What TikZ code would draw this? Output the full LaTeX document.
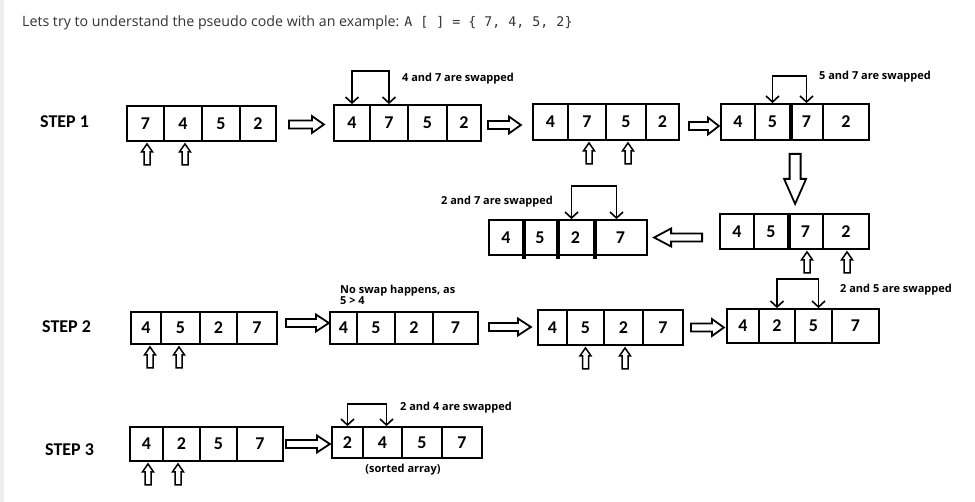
\documentclass[tikz,border=0pt]{standalone}
\usepackage{fontspec}
\setmainfont{Open Sans}
\newfontfamily\digitfont{Carlito}
\newfontfamily\codefont{DejaVu Sans Mono}
\usetikzlibrary{arrows.meta,calc}

\tikzset{
  cellbox/.style={draw, line width=1.8pt, inner sep=0pt,
    font=\digitfont\bfseries\fontsize{18}{18}\selectfont},
  steplabel/.style={anchor=west, inner sep=0pt,
    font=\digitfont\bfseries\fontsize{18}{18}\selectfont},
  note/.style={anchor=west, inner sep=0pt, font=\bfseries\fontsize{11}{10.5}\selectfont},
  swaplink/.style={line width=1.6pt,
    {Straight Barb[length=6pt,width=13pt]}-{Straight Barb[length=6pt,width=13pt]}},
  hollowarr/.style={draw, line width=1.8pt, fill=white, line join=miter},
  thickdiv/.style={line width=3.6pt},
}

% one cell of an array: name, x-left, x-right, y-top, y-bottom, value
\newcommand\cell[6]{%
  \node[cellbox, minimum width={(#3)-(#2)}, minimum height={(#5)-(#4)}]
    (#1) at ({((#2)+(#3))/2},{((#4)+(#5))/2}) {#6};}
% a whole array: name, y-top, y-bottom, list of x-left/x-right/value
\newcommand\arr[4]{%
  \foreach \xa/\xb/\v [count=\i] in {#4} {\cell{#1c\i}{\xa}{\xb}{#2}{#3}{\v}}}
% hollow block arrow: start, angle, length, shaft half width, head half width, head length
\newcommand\harrow[6]{%
  \draw[hollowarr, shift={#1}, rotate=#2]
    (0,-#4) -- ({#3-#6},-#4) -- ({#3-#6},-#5) -- (#3,0) -- ({#3-#6},#5)
    -- ({#3-#6},#4) -- (0,#4) -- cycle;}
% small hollow pointer below a cell, tip at the given point
\newcommand\pointer[1]{%
  \draw[hollowarr, line width=1.5pt, shift={#1}]
    (0,0) -- (5.5,8) -- (3,8) -- (3,21) -- (-3,21) -- (-3,8) -- (-5.5,8) -- cycle;}

\begin{document}
\begin{tikzpicture}[x=1pt, y=-1pt]
\useasboundingbox (0,0) rectangle (975,502);
\fill[black!7] (0,0) rectangle (4,502);

% heading line
\node[anchor=base west, inner sep=0pt, text=black!80] (title) at (22,27)
  {\fontsize{14.2}{16}\selectfont Lets try to understand the pseudo code with an example:
   {\codefont\fontsize{13.3}{16}\selectfont A [ ] = \{ 7, 4, 5, 2\}}};

% step labels
\node[steplabel] (step1) at (40,122) {STEP 1};
\node[steplabel] (step2) at (42,327) {STEP 2};
\node[steplabel] (step3) at (45,450) {STEP 3};

% ---- pass 1 ----
\arr{a1}{106}{141}{127/164/7, 164/202/4, 202/240/5, 240/276/2}
\arr{a2}{105}{141}{334/370/4, 370/408/7, 408/447/5, 447/481/2}
\arr{a3}{104}{140}{533/568/4, 568/606/7, 606/646/5, 646/679/2}
\arr{a4}{104}{140}{721/755/4, 755/790/5, 790/823/7, 823/869/2}
\arr{a5}{214}{249}{720/754/4, 754/788/5, 788/823/7, 823/869/2}
\arr{a6}{220}{255}{489/523/4, 523/557/5, 557/594/2, 594/647/7}

\draw[thickdiv] (a4c2.north east) -- (a4c2.south east);
\draw[thickdiv] (a5c2.north east) -- (a5c2.south east);
\draw[thickdiv] (a6c1.north east) -- ($(a6c1.south east)+(0,3)$);
\draw[thickdiv] (a6c2.north east) -- ($(a6c2.south east)+(0,3)$);
\draw[thickdiv] (a6c3.north east) -- ($(a6c3.south east)+(0,3)$);

\harrow{($(a1c4.east)+(12,1)$)}{0}{35}{4}{8.5}{12}
\harrow{($(a2c4.east)+(6,2)$)}{0}{33}{4}{8.5}{12}
\harrow{($(a3c4.east)+(9,4)$)}{0}{30}{4}{8.5}{11}
\harrow{($(a4c3.south west)+(6,13)$)}{-90}{50}{5.5}{11}{25}
\harrow{($(a5c1.west)+(-17,6)$)}{180}{48}{4}{9}{17}

\pointer{($(a1c1.south)+(1.5,2)$)}
\pointer{($(a1c2.south)+(2,2)$)}
\pointer{($(a3c2.south)+(2,2)$)}
\pointer{($(a3c3.south)+(2,2)$)}
\pointer{($(a5c3.south)+(1.5,2)$)}
\pointer{($(a5c4.south)+(1,2)$)}

\draw[swaplink] (a2c1.north) -- ++(0,-33) -| (a2c2.north);
\draw[swaplink] (a4c2.north) -- ++(0,-27) -| (a4c3.north);
\draw[swaplink] ($(a6c3.north)+(-4,0)$) -- ++(0,-33) -| ($(a6c4.north)+(-4,0)$);

\node[note] (n1) at (402,79) {4 and 7 are swapped};
\node[note] (n2) at (819,77) {5 and 7 are swapped};
\node[note] (n3) at (441,202) {2 and 7 are swapped};

% ---- pass 2 ----
\arr{b1}{312}{344}{131/161/4, 161/200/5, 200/237/2, 237/277/7}
\arr{b2}{312}{344}{330/357/4, 357/395/5, 395/433/2, 433/478/7}
\arr{b3}{310}{345}{538/567/4, 567/604/5, 604/643/2, 643/683/7}
\arr{b4}{309}{343}{727/759/4, 759/795/2, 795/832/5, 832/879/7}

\harrow{($(b1c4.east)+(8,-5)$)}{0}{43}{4}{8.5}{13}
\harrow{($(b2c4.east)+(10,-1)$)}{0}{42}{4}{8.5}{13}
\harrow{($(b3c4.east)+(7,0)$)}{0}{33}{4}{8.5}{12}

\pointer{($(b1c1.south)+(4,2)$)}
\pointer{($(b1c2.south)+(-1.5,2)$)}
\pointer{($(b3c2.south)+(0,2)$)}
\pointer{($(b3c3.south)+(1.5,2)$)}

\draw[swaplink] (b4c2.north) -- ++(0,-29) -| ($(b4c3.north)+(5,0)$);

\node[note, anchor=north west, align=left] (n4) at (340,285)
  {No swap happens, as\\5 > 4};
\node[note] (n5) at (840,290) {2 and 5 are swapped};

% ---- pass 3 ----
\arr{c1}{427}{461}{130/163/4, 163/200/2, 200/237/5, 237/283/7}
\arr{c2}{427}{458}{332/363/2, 363/402/4, 402/442/5, 442/482/7}

\harrow{($(c1c4.east)+(2,0)$)}{0}{44}{4}{8.5}{13}

\pointer{($(c1c1.south)+(1.5,2)$)}
\pointer{($(c1c2.south)+(-3.5,2)$)}

\draw[swaplink] (c2c1.north) -- ++(0,-22) -| ($(c2c2.north)+(4,0)$);

\node[note] (n6) at (400,408) {2 and 4 are swapped};
\node[note, anchor=center] (n7) at (403,470) {(sorted array)};
\end{tikzpicture}
\end{document}
